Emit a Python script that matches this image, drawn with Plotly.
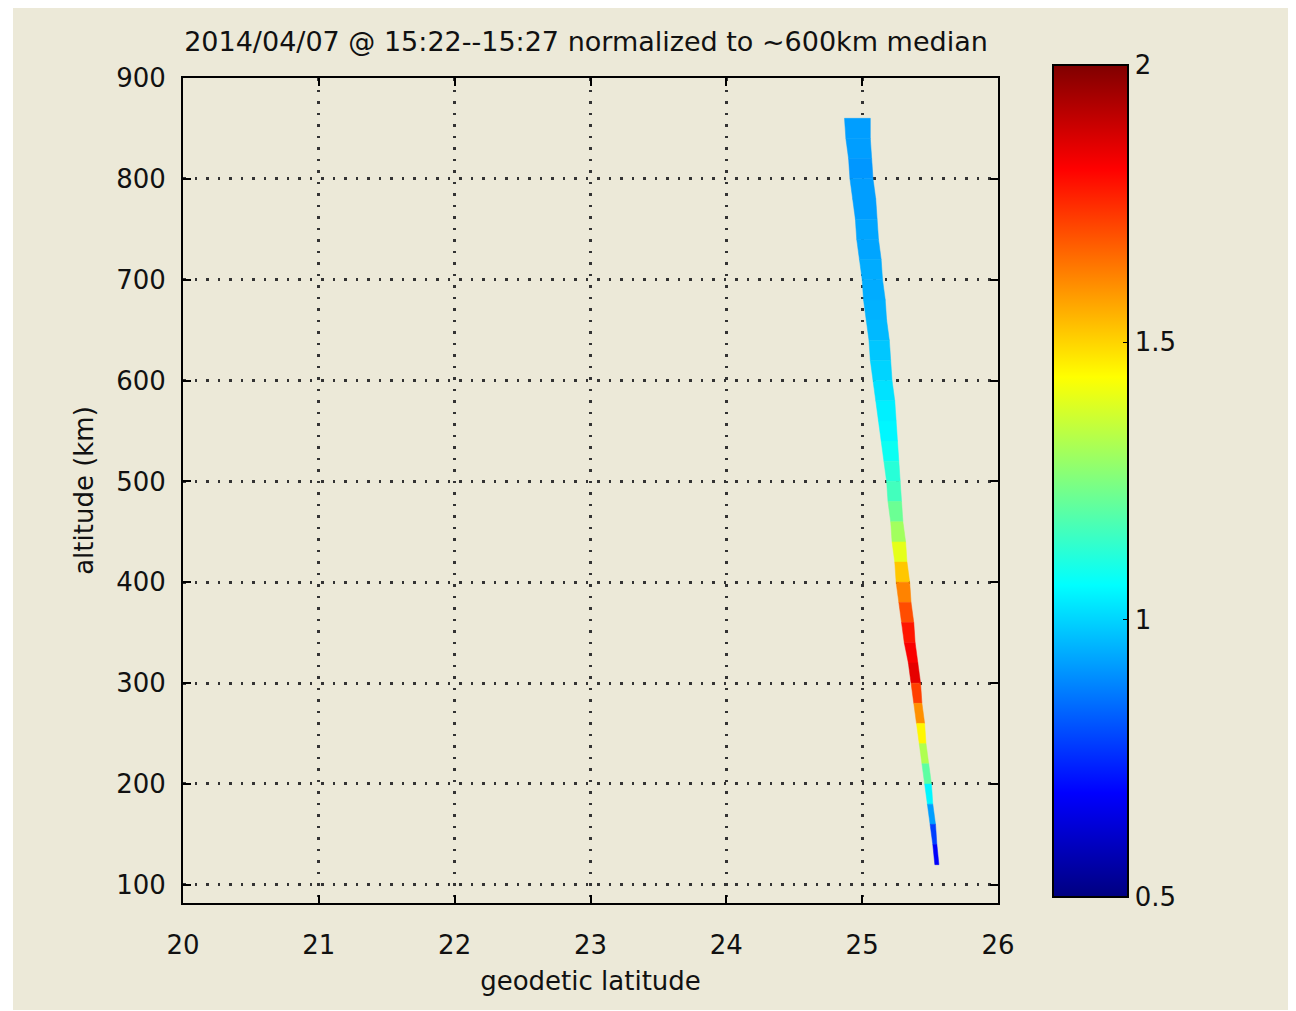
import plotly.graph_objects as go
from plotly.colors import sample_colorscale

# ---- data ----
alt_edges = [860, 840, 820, 800, 780, 760, 740, 720, 700, 680, 660, 640, 620, 600,
             580, 560, 540, 520, 500, 480, 460, 440, 420, 400, 380, 360, 340, 320,
             300, 280, 260, 240, 220, 200, 180, 160, 140, 120]
lat_left = [24.87, 24.88, 24.90, 24.91, 24.93, 24.95, 24.96, 24.98, 25.00, 25.01,
            25.03, 25.05, 25.06, 25.08, 25.10, 25.12, 25.14, 25.16, 25.18, 25.19,
            25.21, 25.22, 25.24, 25.25, 25.27, 25.29, 25.31, 25.34, 25.36, 25.38,
            25.40, 25.42, 25.44, 25.46, 25.48, 25.50, 25.52, 25.535]
lat_right = [25.06, 25.06, 25.07, 25.08, 25.10, 25.11, 25.12, 25.14, 25.15, 25.17,
             25.18, 25.20, 25.21, 25.22, 25.24, 25.25, 25.26, 25.27, 25.28, 25.29,
             25.30, 25.32, 25.33, 25.35, 25.36, 25.38, 25.39, 25.41, 25.43, 25.44,
             25.46, 25.47, 25.49, 25.51, 25.52, 25.54, 25.55, 25.565]
norm_value = [0.92, 0.92, 0.91, 0.92, 0.92, 0.93, 0.93, 0.94, 0.94, 0.95, 0.96, 0.98,
              1.00, 1.02, 1.04, 1.05, 1.08, 1.12, 1.16, 1.22, 1.30, 1.40, 1.52, 1.62,
              1.70, 1.78, 1.82, 1.85, 1.72, 1.60, 1.45, 1.32, 1.20, 1.05, 0.92, 0.78,
              0.68]

x_ticks = [20, 21, 22, 23, 24, 25, 26]
y_ticks = [100, 200, 300, 400, 500, 600, 700, 800, 900]
cbar_ticks = [0.5, 1, 1.5, 2]
cbar_ticktext = ["0.5", "1", "1.5", "2"]
cmin, cmax = 0.5, 2.0

title_text = "2014/04/07 @ 15:22--15:27 normalized to ~600km median"

jet = [[0.0, "rgb(0,0,128)"], [0.125, "rgb(0,0,255)"], [0.375, "rgb(0,255,255)"],
       [0.625, "rgb(255,255,0)"], [0.875, "rgb(255,0,0)"], [1.0, "rgb(128,0,0)"]]

FONT = "DejaVu Sans, Liberation Sans, Arial, sans-serif"
BEIGE = "#ECE9D8"
TXT = "#111111"

# page body has an 8px margin -> work in figure coords shifted by 8px
OFF = 8
PL, PR, PT, PB = 183 - OFF, 998 - OFF, 78 - OFF, 903 - OFF
W, H = 1296 - OFF, 1011 - OFF
PW, PH = PR - PL, PB - PT

fig = go.Figure()

for i, v in enumerate(norm_value):
    t = (v - cmin) / (cmax - cmin)
    col = sample_colorscale(jet, [t])[0]
    xs = [lat_left[i], lat_right[i], lat_right[i + 1], lat_left[i + 1], lat_left[i]]
    ys = [alt_edges[i], alt_edges[i], alt_edges[i + 1], alt_edges[i + 1], alt_edges[i]]
    fig.add_trace(go.Scatter(x=xs, y=ys, mode="lines", fill="toself",
                             fillcolor=col, line=dict(color=col, width=0.5),
                             hoverinfo="skip", showlegend=False))

# colorbar carrier
cb_top, cb_bot, cb_left = 65 - OFF, 897 - OFF, 1053 - OFF
fig.add_trace(go.Scatter(
    x=[None, None], y=[None, None], mode="markers", showlegend=False,
    marker=dict(color=[cmin, cmax], cmin=cmin, cmax=cmax, colorscale=jet,
                showscale=True,
                colorbar=dict(
                    x=(cb_left - PL) / PW, xanchor="left", xref="paper",
                    y=1 - ((cb_top + cb_bot) / 2 - PT) / PH, yanchor="middle",
                    len=cb_bot - cb_top, lenmode="pixels", thickness=75,
                    thicknessmode="pixels",
                    xpad=0, ypad=0, outlinecolor="black", outlinewidth=2,
                    tickvals=cbar_ticks, ticktext=cbar_ticktext,
                    ticks="inside", ticklen=6, tickcolor="black",
                    tickfont=dict(family=FONT, size=26, color=TXT),
                ))))

fig.update_xaxes(range=[20, 26], tickvals=x_ticks, showgrid=True,
                 gridcolor="#333333", gridwidth=2.5, griddash="2.5px,9px",
                 showline=True, linecolor="black", linewidth=2, mirror="ticks",
                 ticks="inside", ticklen=8, tickwidth=2, tickcolor="black",
                 tickfont=dict(family=FONT, size=26, color=TXT),
                 ticklabelstandoff=18, zeroline=False,
                 title=dict(text="geodetic latitude", font=dict(family=FONT, size=26, color=TXT),
                            standoff=13))
fig.update_yaxes(range=[82, 900], tickvals=y_ticks, showgrid=True,
                 gridcolor="#333333", gridwidth=2.5, griddash="2.5px,9px",
                 showline=True, linecolor="black", linewidth=2, mirror="ticks",
                 ticks="inside", ticklen=8, tickwidth=2, tickcolor="black",
                 tickfont=dict(family=FONT, size=26, color=TXT),
                 ticklabelstandoff=10, zeroline=False,
                 title=dict(text="altitude (km)", font=dict(family=FONT, size=26, color=TXT),
                            standoff=15))

fig.update_layout(
    width=W, height=H,
    margin=dict(l=PL, r=W - PR, t=PT, b=H - PB, pad=0),
    paper_bgcolor="white", plot_bgcolor="white",
    title=dict(text=title_text, x=(586 - OFF - PL) / PW, xref="paper", xanchor="center",
               y=1 - (42 - OFF) / H, yref="container", yanchor="middle",
               font=dict(family=FONT, size=27, color=TXT)),
    shapes=[dict(type="rect", xref="paper", yref="paper", layer="below",
                 x0=(13 - OFF - PL) / PW, x1=(1293 - OFF - PL) / PW,
                 y0=1 - (1010 - OFF - PT) / PH, y1=1 - (5 - OFF - PT) / PH,
                 fillcolor=BEIGE, line=dict(width=0))],
)

fig.write_html("out.html")
